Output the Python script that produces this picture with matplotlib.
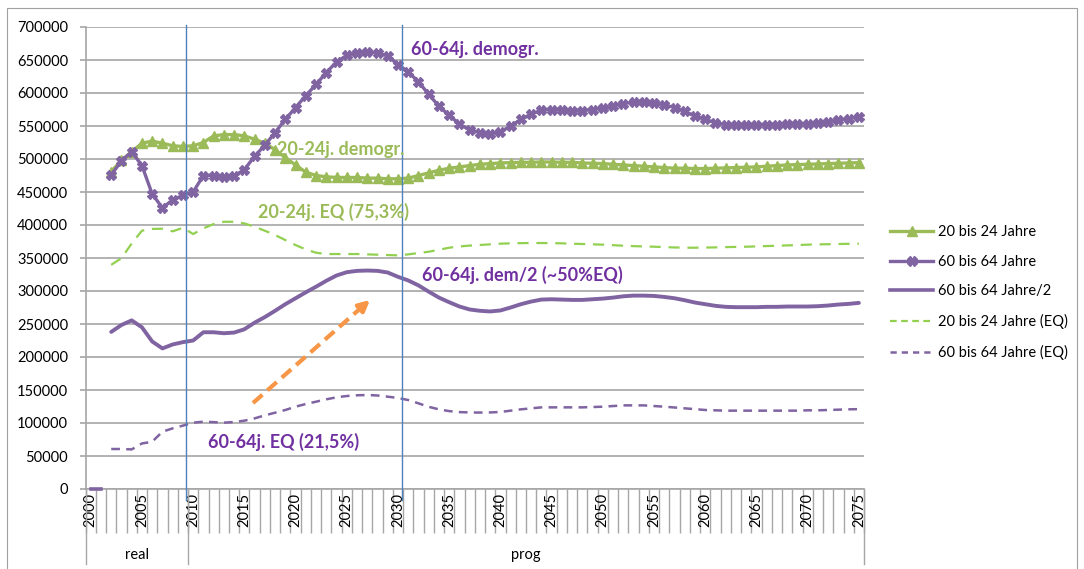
import numpy as np
import matplotlib
matplotlib.use("Agg")
import matplotlib.pyplot as plt
from matplotlib.patches import Rectangle

plt.rcParams['font.family'] = ['Lato', 'DejaVu Sans']

# ---- data -------------------------------------------------------------
years = list(range(2000, 2076))
years_data = list(range(2002, 2076))

# 20 bis 24 Jahre (demographisch)
age20_24 = [481000, 498000, 511000, 524000, 527000, 524000, 520000, 519000,
            520000, 525000, 535000, 537000, 537000, 535000, 530000, 524000,
            514000, 502000, 491000, 480000, 475000, 473000, 472000, 472000,
            472000, 471000, 471000, 470000, 470000, 471000, 475000, 479000,
            483000, 486000, 488000, 490000, 492000, 493000, 494000, 494500,
            495000, 495000, 495500, 495500, 495000, 495000, 494000, 493500,
            493000, 492000, 491000, 490000, 489000, 488000, 487000, 486000,
            486000, 485500, 485500, 486000, 486500, 487000, 487500, 488000,
            489000, 490000, 491000, 491500, 492000, 492500, 493000, 493500,
            494000, 494500]

# 60 bis 64 Jahre (demographisch)
age60_64 = [476000, 497000, 511000, 490000, 447000, 426000, 438000, 445000,
            450000, 475000, 475000, 472000, 474000, 484000, 504000, 521000,
            540000, 560000, 578000, 596000, 613000, 631000, 647000, 657000,
            661000, 662000, 661000, 656000, 643000, 632000, 617000, 598000,
            580000, 566000, 553000, 544000, 540000, 538000, 541000, 550000,
            560000, 568000, 574000, 575000, 574000, 573000, 573000, 575000,
            577000, 580000, 584000, 586000, 586000, 585000, 582000, 578000,
            572000, 565000, 560000, 555000, 552000, 551000, 551000, 551000,
            552000, 552000, 553000, 553000, 553000, 554000, 556000, 559000,
            561000, 564000]

# 60 bis 64 Jahre / 2
age60_64_half = [238000, 248500, 255500, 245000, 223500, 213000, 219000, 222500,
                 225000, 237500, 237500, 236000, 237000, 242000, 252000, 260500,
                 270000, 280000, 289000, 298000, 306500, 315500, 323500, 328500,
                 330500, 331000, 330500, 328000, 321500, 316000, 308500, 299000,
                 290000, 283000, 276500, 272000, 270000, 269000, 270500, 275000,
                 280000, 284000, 287000, 287500, 287000, 286500, 286500, 287500,
                 288500, 290000, 292000, 293000, 293000, 292500, 291000, 289000,
                 286000, 282500, 280000, 277500, 276000, 275500, 275500, 275500,
                 276000, 276000, 276500, 276500, 276500, 277000, 278000, 279500,
                 280500, 282000]

# 20 bis 24 Jahre (EQ)
age20_24_eq = [339600, 349700, 372000, 391400, 394000, 394400, 390400, 395800,
               386300, 394900, 401400, 404900, 404900, 402400, 397400, 391300,
               384800, 377200, 369600, 363000, 358000, 356000, 356000, 356000,
               356000, 355500, 355000, 354500, 354000, 355500, 357500, 359500,
               362500, 365600, 367500, 368800, 369700, 370700, 371700, 372200,
               372500, 372700, 372700, 372500, 372200, 371700, 371200, 370700,
               370200, 369400, 368600, 368000, 367500, 367100, 366500, 366000,
               365600, 365600, 365800, 366100, 366500, 366800, 367100, 367600,
               368100, 368600, 369100, 369600, 370200, 370600, 370900, 371200,
               371500, 371700]

# 60 bis 64 Jahre (EQ)
age60_64_eq = [60600, 60600, 60000, 69000, 71600, 86800, 91900, 96000,
               100500, 102000, 101300, 100500, 101500, 103500, 107000, 111600,
               115600, 119700, 124700, 128800, 132300, 135900, 138900, 140900,
               142000, 142400, 141700, 139900, 137900, 134800, 129800, 124500,
               120700, 118000, 116500, 116000, 115800, 116000, 116700, 118700,
               120700, 122200, 123700, 123700, 123700, 123700, 123700, 124200,
               124700, 125700, 126700, 126700, 126700, 125700, 124700, 123500,
               122200, 121000, 119700, 119200, 118700, 118700, 118700, 118700,
               118700, 118700, 118700, 118700, 119200, 119200, 119700, 120200,
               120700, 121000]

zero_years = [2000, 2001]
zero_vals = [0, 0]

tick_years = list(range(2000, 2076, 5))
y_ticks = list(range(0, 700001, 50000))

legend_labels = ["20 bis 24 Jahre", "60 bis 64 Jahre", "60 bis 64 Jahre/2",
                 "20 bis 24 Jahre (EQ)", "60 bis 64 Jahre (EQ)"]

# ---- styling ----------------------------------------------------------
GREEN = "#9BBB59"
GREEN_LIGHT = "#92D050"
PURPLE = "#8064A2"
PURPLE_TXT = "#7030A0"
BLUE = "#4F81BD"
ORANGE = "#F79646"
GRID = "#A6A6A6"

W, H = 1084, 569
fig = plt.figure(figsize=(W / 100, H / 100), dpi=100)

ax_l, ax_r, ax_t, ax_b = 85.6, 864, 27, 489
ax = fig.add_axes([ax_l / W, 1 - ax_b / H, (ax_r - ax_l) / W, (ax_b - ax_t) / H])

first = years[0]


def xpos(ys):
    # category centre of each year
    return [y - first + 0.5 for y in ys]


ax.set_xlim(0, len(years))
ax.set_ylim(0, 700000)

# grid
ax.set_yticks(y_ticks)
ax.set_yticklabels([f"{v:d}" for v in y_ticks], fontsize=10.5)
ax.yaxis.grid(True, color=GRID, lw=1.2)
ax.set_axisbelow(True)
ax.tick_params(axis='y', length=4, color=GRID, width=1.2, pad=8.5)

# category ticks
ax.set_xticks(range(0, len(years) + 1))
ax.set_xticklabels([])
ax.tick_params(axis='x', which='major', length=32, color=GRID, width=1.0)
ax.set_xticks(xpos(tick_years), minor=True)
ax.set_xticklabels([str(y) for y in tick_years], minor=True, rotation=90,
                   fontsize=10.5)
ax.tick_params(axis='x', which='minor', length=0, pad=3)

for s in ['top', 'right']:
    ax.spines[s].set_visible(False)
ax.spines['left'].set_color(GRID)
ax.spines['bottom'].set_color(GRID)
ax.spines['left'].set_linewidth(1.2)
ax.spines['bottom'].set_linewidth(1.2)

# series
ax.plot(xpos(years_data), age20_24_eq, color=GREEN_LIGHT, lw=1.6,
        dashes=(5, 3.5), zorder=3)
ax.plot(xpos(years_data), age60_64_eq, color=PURPLE, lw=1.8,
        dashes=(3.5, 2.5), zorder=3)
ax.plot(xpos(years_data), age60_64_half, color=PURPLE, lw=2.8, zorder=3,
        solid_capstyle='round')
ax.plot(xpos(years_data), age20_24, color=GREEN, lw=2.4, marker='^',
        markersize=7, zorder=4)
ax.plot(xpos(years_data), age60_64, color=PURPLE, lw=2.4, marker='X',
        markersize=7, zorder=5)
ax.plot(xpos(zero_years), zero_vals, color=PURPLE, lw=2.6, clip_on=False,
        zorder=5)

# period separators
for xv in [9.8, 30.87]:
    ax.plot([xv, xv], [1.004, -0.024], color=BLUE, lw=1.0,
            transform=ax.get_xaxis_transform(), clip_on=False, zorder=6)

# group axis (real / prog)
for xv in [0, 10, len(years)]:
    ax.plot([xv, xv], [0, -0.163], color=GRID, lw=1.0,
            transform=ax.get_xaxis_transform(), clip_on=False)
ax.text(5, -0.143, "real", transform=ax.get_xaxis_transform(),
        ha='center', va='center', fontsize=10.5)
ax.text((10 + len(years)) / 2, -0.143, "prog", transform=ax.get_xaxis_transform(),
        ha='center', va='center', fontsize=10.5)

# labels on the chart


def px_x(p):
    return (p - ax_l) / ((ax_r - ax_l) / len(years))


def px_y(p):
    return (ax_b - p) / (ax_b - ax_t) * 700000


txt_kw = dict(fontsize=13, fontweight='bold', va='center', ha='left', zorder=7)
ax.text(px_x(411), px_y(49), "60-64j. demogr.", color=PURPLE_TXT, **txt_kw)
ax.text(px_x(277), px_y(149), "20-24j. demogr.", color=GREEN, **txt_kw)
ax.text(px_x(258), px_y(212), "20-24j. EQ (75,3%)", color=GREEN, **txt_kw)
ax.text(px_x(422), px_y(275), "60-64j. dem/2 (~50%EQ)", color=PURPLE_TXT, **txt_kw)
ax.text(px_x(208), px_y(442), "60-64j. EQ (21,5%)", color=PURPLE_TXT, **txt_kw)

# orange trend arrow
x0, y0 = px_x(253), px_y(403)
x1, y1 = px_x(370), px_y(300)
xm, ym = px_x(358), px_y(310.5)
ax.plot([x0, xm], [y0, ym], color=ORANGE, lw=3, dashes=(3, 1.6), zorder=6)
ax.annotate("", xy=(x1, y1), xytext=(xm, ym),
            arrowprops=dict(arrowstyle='-|>', color=ORANGE, lw=3,
                            mutation_scale=16, shrinkA=0, shrinkB=0), zorder=6)

# legend
handles = [
    plt.Line2D([], [], color=GREEN, lw=2.4, marker='^', markersize=7),
    plt.Line2D([], [], color=PURPLE, lw=2.4, marker='X', markersize=7),
    plt.Line2D([], [], color=PURPLE, lw=2.6),
    plt.Line2D([], [], color=GREEN_LIGHT, lw=1.6, dashes=(3, 2)),
    plt.Line2D([], [], color=PURPLE, lw=1.8, dashes=(2.5, 2)),
]
fig.legend(handles, legend_labels, loc='upper left',
           bbox_to_anchor=(890 / W, 1 - 225 / H), frameon=False,
           fontsize=10.5, handlelength=2.97, handletextpad=0.35,
           labelspacing=1.08, borderaxespad=0, borderpad=0)

# chart border (lower edge runs past the bottom of the figure)
fig.patches.append(Rectangle((7 / W, -10 / H), (1077 - 7) / W, (569 + 10 - 8) / H,
                             transform=fig.transFigure, fill=False,
                             edgecolor="#A0A0A0", lw=0.8))

fig.savefig("out.png", dpi=100)
